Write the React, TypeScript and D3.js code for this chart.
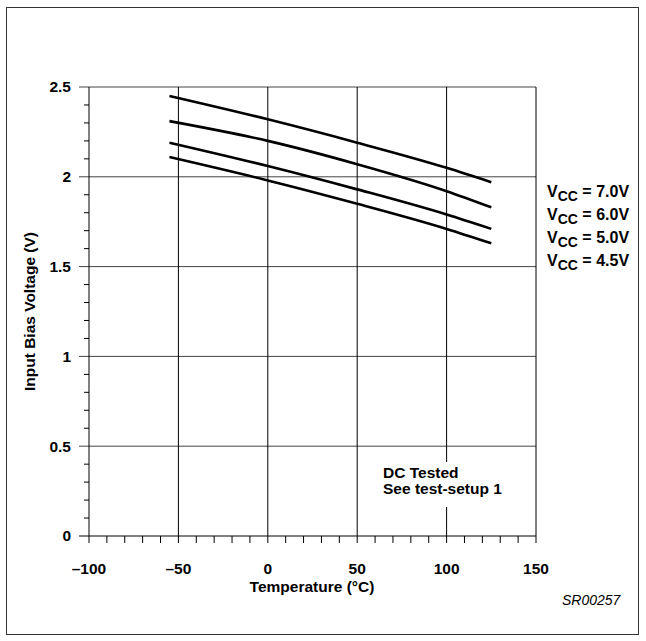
import React from "react";
import * as d3 from "d3";

const temps = [-55, 0, 50, 100, 125];
const vcc70 = [2.45, 2.32, 2.19, 2.05, 1.97];
const vcc60 = [2.31, 2.2, 2.07, 1.92, 1.83];
const vcc50 = [2.19, 2.06, 1.93, 1.79, 1.71];
const vcc45 = [2.11, 1.98, 1.85, 1.71, 1.63];
const seriesLabels = ["= 7.0V", "= 6.0V", "= 5.0V", "= 4.5V"];
const xTicks = [-100, -50, 0, 50, 100, 150];
const yTicks = [0, 0.5, 1, 1.5, 2, 2.5];

const W = 646;
const H = 641;
const FONT = "'Liberation Sans', Arial, Helvetica, sans-serif";
const FS = 15.5;

export default function App() {
  const x = d3.scaleLinear().domain([-100, 150]).range([89, 536]);
  const y = d3.scaleLinear().domain([0, 2.5]).range([536, 87]);
  const line = d3
    .line<number>()
    .x((_, i) => x(temps[i]))
    .y((d) => y(d))
    .curve(d3.curveMonotoneX);
  const series = [vcc70, vcc60, vcc50, vcc45];
  const xMinor = d3.range(-100, 151, 10);
  const yMinor = d3.range(0, 2.51, 0.1).filter((v) => Math.abs(v * 2 - Math.round(v * 2)) > 1e-6);
  const fmtX = (v: number) => (v < 0 ? "\u2013" + Math.abs(v) : String(v));
  const [x0, x1] = x.range();
  const [y0, y1] = y.range();

  return (
    <svg
      width={W}
      height={H}
      style={{ position: "absolute", left: 0, top: 0, background: "#fff" }}
      fontFamily={FONT}
    >
      <rect x={0} y={0} width={W} height={H} fill="#fff" />
      <rect x={6.5} y={7.5} width={632} height={627} fill="none" stroke="#333" strokeWidth={1} />

      {/* horizontal gridlines */}
      {yTicks.map((v) => (
        <line key={"h" + v} x1={x0 - 10} x2={x1} y1={y(v)} y2={y(v)} stroke={v === 0 ? "#000" : "#444"} strokeWidth={1} />
      ))}
      {/* vertical gridlines */}
      {xTicks.map((v) => (
        <line key={"v" + v} x1={x(v)} x2={x(v)} y1={y0} y2={y1} stroke="#000" strokeWidth={1} />
      ))}
      {/* y minor ticks */}
      {yMinor.map((v) => (
        <line key={"ym" + v} x1={x0 - 5} x2={x0} y1={y(v)} y2={y(v)} stroke="#000" strokeWidth={1} />
      ))}
      {/* x ticks below axis */}
      {xMinor.map((v) => (
        <line key={"xm" + v} x1={x(v)} x2={x(v)} y1={y0} y2={y0 + 7} stroke="#000" strokeWidth={1} />
      ))}

      {/* annotation background */}
      <rect x={376} y={462} width={155} height={45} fill="#fff" />
      <text x={383} y={478} fontSize={FS} fontWeight="bold">DC Tested</text>
      <text x={383} y={494} fontSize={FS} fontWeight="bold">See test-setup 1</text>

      {/* curves */}
      {series.map((s, i) => (
        <path key={"s" + i} d={line(s) || ""} fill="none" stroke="#000" strokeWidth={2.6} />
      ))}

      {/* y tick labels */}
      {yTicks.map((v) => (
        <text key={"yl" + v} x={71} y={y(v)} dy="0.35em" textAnchor="end" fontSize={FS} fontWeight="bold">
          {String(v)}
        </text>
      ))}
      {/* x tick labels */}
      {xTicks.map((v) => (
        <text key={"xl" + v} x={x(v)} y={574} textAnchor="middle" fontSize={FS} fontWeight="bold">
          {fmtX(v)}
        </text>
      ))}

      <text x={312} y={592} textAnchor="middle" fontSize={FS} fontWeight="bold">
        Temperature (°C)
      </text>
      <text
        transform={`translate(35,${(y0 + y1) / 2}) rotate(-90)`}
        textAnchor="middle"
        fontSize={FS}
        fontWeight="bold"
      >
        Input Bias Voltage (V)
      </text>

      {/* legend */}
      {seriesLabels.map((t, i) => (
        <text key={"lg" + i} x={547} y={196.5 + i * 23} fontSize={16} fontWeight="bold">
          V
          <tspan dy={4} fontSize={14}>CC</tspan>
          <tspan dy={-4}>{" " + t}</tspan>
        </text>
      ))}

      <text x={562} y={605} fontSize={14} fontStyle="italic">SR00257</text>
    </svg>
  );
}
